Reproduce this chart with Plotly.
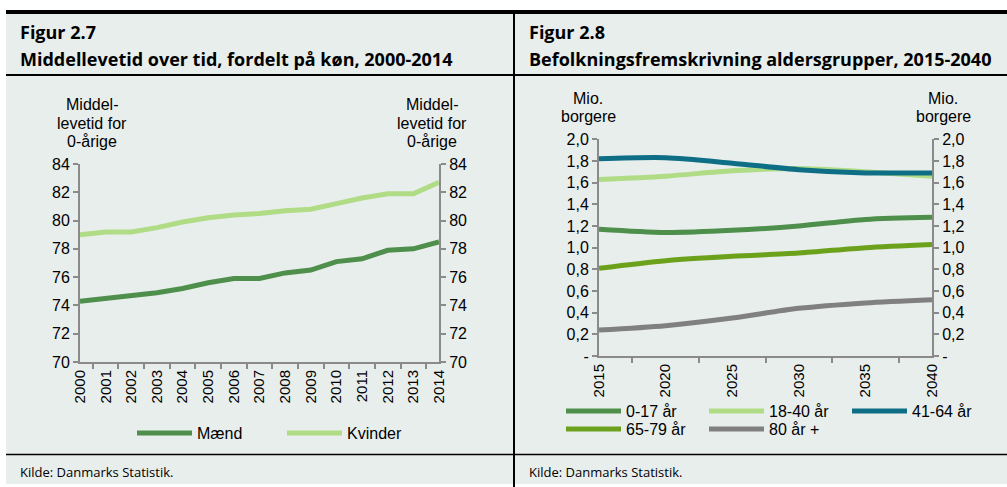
import plotly.graph_objects as go

# ---------------- data ----------------
years = ["2000", "2001", "2002", "2003", "2004", "2005", "2006", "2007",
         "2008", "2009", "2010", "2011", "2012", "2013", "2014"]
maend = [74.3, 74.5, 74.7, 74.9, 75.2, 75.6, 75.9, 75.9, 76.3, 76.5, 77.1, 77.3, 77.9, 78.0, 78.5]
kvinder = [79.0, 79.2, 79.2, 79.5, 79.9, 80.2, 80.4, 80.5, 80.7, 80.8, 81.2, 81.6, 81.9, 81.9, 82.7]

proj_years = ["2015", "2020", "2025", "2030", "2035", "2040"]
age_0_17 = [1.17, 1.14, 1.16, 1.20, 1.26, 1.28]
age_18_40 = [1.63, 1.66, 1.71, 1.73, 1.70, 1.66]
age_41_64 = [1.82, 1.83, 1.78, 1.72, 1.69, 1.69]
age_65_79 = [0.81, 0.88, 0.92, 0.95, 1.00, 1.03]
age_80p = [0.24, 0.28, 0.35, 0.44, 0.49, 0.52]

y1_ticks = [70, 72, 74, 76, 78, 80, 82, 84]
y2_ticks = [0, 0.2, 0.4, 0.6, 0.8, 1.0, 1.2, 1.4, 1.6, 1.8, 2.0]
y2_ticktext = ["-", "0,2", "0,4", "0,6", "0,8", "1,0", "1,2", "1,4", "1,6", "1,8", "2,0"]

# ---------------- style ----------------
W, H = 1007, 487
BG = "#e8eeec"
AX = "#8a8a8a"
C_MID = "#4e8f4b"
C_LIGHT = "#b0dc86"
C_TEAL = "#0e6e85"
C_OLIVE = "#6ca21b"
C_GREY = "#808080"
FONT = "Liberation Sans"
TFONT = "Open Sans"

def px(x):
    return x / W

def py(y):
    return 1 - y / H

fig = go.Figure()

LW = 5
fig.add_trace(go.Scatter(x=years, y=maend, name="Mænd", mode="lines",
                         line=dict(color=C_MID, width=LW), xaxis="x", yaxis="y",
                         legend="legend"))
fig.add_trace(go.Scatter(x=years, y=kvinder, name="Kvinder", mode="lines",
                         line=dict(color=C_LIGHT, width=LW), xaxis="x", yaxis="y",
                         legend="legend"))
# invisible companion so the right-hand axis of figure 2.7 is drawn
fig.add_trace(go.Scatter(x=years, y=maend, mode="lines", opacity=0, showlegend=False,
                         hoverinfo="skip", line=dict(width=0), xaxis="x", yaxis="y2"))

series2 = [("0-17 år", age_0_17, C_MID, "legend2"),
           ("18-40 år", age_18_40, C_LIGHT, "legend2"),
           ("41-64 år", age_41_64, C_TEAL, "legend2"),
           ("65-79 år", age_65_79, C_OLIVE, "legend3"),
           ("80 år +", age_80p, C_GREY, "legend3")]
for name, vals, col, lg in series2:
    fig.add_trace(go.Scatter(x=proj_years, y=vals, name=name, mode="lines",
                             line=dict(color=col, width=LW, shape="spline", smoothing=0.8),
                             xaxis="x2", yaxis="y3", legend=lg))
# invisible companion so the right-hand axis of figure 2.8 is drawn
fig.add_trace(go.Scatter(x=proj_years, y=age_0_17, mode="lines", opacity=0, showlegend=False,
                         hoverinfo="skip", line=dict(width=0), xaxis="x2", yaxis="y4"))

xtickfont = dict(family=FONT, size=15, color="#000000")
ytickfont = dict(family=FONT, size=16, color="#000000")

common_x = dict(type="category", showline=True, linecolor=AX, linewidth=2,
                ticks="outside", ticklen=5, tickcolor=AX, tickwidth=2,
                tickson="boundaries", tickangle=-90, tickfont=xtickfont,
                showgrid=False, zeroline=False, fixedrange=True, automargin=False)
common_y = dict(showline=True, linecolor=AX, linewidth=2, ticks="outside",
                ticklen=5, tickcolor=AX, tickwidth=2, tickfont=ytickfont,
                showgrid=False, zeroline=False, fixedrange=True, automargin=False)

legend_common = dict(orientation="h", bgcolor="rgba(0,0,0,0)",
                     font=dict(family=FONT, size=16, color="#000000"),
                     xanchor="left", yanchor="middle", entrywidthmode="pixels",
                     itemwidth=55, tracegroupgap=0)

fig.update_layout(
    width=W, height=H,
    margin=dict(l=0, r=0, t=0, b=0, pad=0, autoexpand=False),
    paper_bgcolor="white", plot_bgcolor="rgba(0,0,0,0)",
    font=dict(family=FONT, size=16, color="#000000"),
    xaxis=dict(common_x, domain=[px(80), px(439)], anchor="y"),
    yaxis=dict(common_y, domain=[py(362), py(164)], range=[70, 84],
               tickvals=y1_ticks, anchor="x", side="left"),
    yaxis2=dict(common_y, domain=[py(362), py(164)], range=[70, 84],
                tickvals=y1_ticks, anchor="x", side="right", overlaying="y"),
    xaxis2=dict(common_x, domain=[px(599), px(932)], anchor="y3"),
    yaxis3=dict(common_y, domain=[py(356), py(139.3)], range=[0, 2.0],
                tickvals=y2_ticks, ticktext=y2_ticktext, anchor="x2", side="left"),
    yaxis4=dict(common_y, domain=[py(356), py(139.3)], range=[0, 2.0],
                tickvals=y2_ticks, ticktext=y2_ticktext, anchor="x2", side="right",
                overlaying="y3"),
    legend=dict(legend_common, x=px(132), y=py(433), entrywidth=80),
    legend2=dict(legend_common, x=px(561), y=py(411), entrywidth=73),
    legend3=dict(legend_common, x=px(561), y=py(429), entrywidth=73),
    showlegend=True,
)

# ---------------- frame / background ----------------
shapes = [
    dict(type="rect", xref="paper", yref="paper", x0=px(6), x1=px(1007),
         y0=py(484), y1=py(12), fillcolor=BG, line=dict(width=0), layer="below"),
    dict(type="line", xref="paper", yref="paper", x0=px(6), x1=px(1007),
         y0=py(12), y1=py(12), line=dict(color="#000000", width=4)),
    dict(type="line", xref="paper", yref="paper", x0=px(6), x1=px(1007),
         y0=py(75), y1=py(75), line=dict(color="#000000", width=2)),
    dict(type="line", xref="paper", yref="paper", x0=px(6), x1=px(1007),
         y0=py(454.5), y1=py(454.5), line=dict(color="#000000", width=1.5)),
    dict(type="line", xref="paper", yref="paper", x0=px(514), x1=px(514),
         y0=py(487), y1=py(12), line=dict(color="#000000", width=2)),
]
fig.update_layout(shapes=shapes)

ann = []
def text(x, y, s, size=16, family=FONT, bold=False, align="center", xanchor="center"):
    if bold:
        s = "<b>" + s + "</b>"
    ann.append(dict(xref="paper", yref="paper", x=px(x), y=py(y), text=s,
                    showarrow=False, xanchor=xanchor, yanchor="middle", align=align,
                    font=dict(family=family, size=size, color="#000000")))

# titles
text(18, 32, "Figur 2.7", size=18, family=TFONT, bold=True, xanchor="left", align="left")
text(18, 59, "Middellevetid over tid, fordelt på køn, 2000-2014", size=18, family=TFONT,
     bold=True, xanchor="left", align="left")
text(527, 32, "Figur 2.8", size=18, family=TFONT, bold=True, xanchor="left", align="left")
text(527, 59, "Befolkningsfremskrivning aldersgrupper, 2015-2040", size=18, family=TFONT,
     bold=True, xanchor="left", align="left")

# axis titles (one annotation per line)
for cx in (92, 432):
    text(cx, 104, "Middel-")
    text(cx, 123, "levetid for")
    text(cx, 141, "0-årige")
for cx in (588, 943):
    text(cx, 99, "Mio.")
    text(cx, 117, "borgere")

# sources
text(18, 472, "Kilde: Danmarks Statistik.", size=13, family=TFONT, xanchor="left", align="left")
text(527, 472, "Kilde: Danmarks Statistik.", size=13, family=TFONT, xanchor="left", align="left")

fig.update_layout(annotations=ann)

fig.write_html("out.html",
               config={"displayModeBar": False, "staticPlot": True},
               post_script="document.body.style.margin='0';document.body.style.overflow='hidden';")
